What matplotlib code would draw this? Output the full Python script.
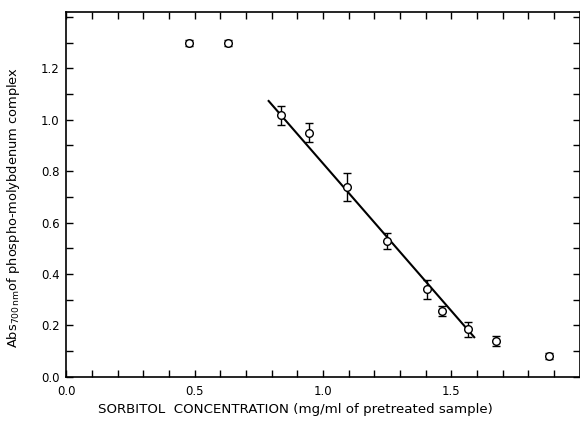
import matplotlib
matplotlib.use('Agg')
import matplotlib.pyplot as plt
import numpy as np

# sorbitol concentration (mg/ml) and absorbance readings
conc = [0.478, 0.63, 0.835, 0.945, 1.095, 1.248, 1.405, 1.464, 1.564, 1.674, 1.881]
absorb = [1.30, 1.30, 1.017, 0.950, 0.737, 0.529, 0.341, 0.257, 0.185, 0.140, 0.082]
err = [0.012, 0.012, 0.037, 0.036, 0.055, 0.03, 0.037, 0.02, 0.03, 0.02, 0.012]

# regression line endpoints
fit_x = [0.788, 1.589]
fit_y = [1.073, 0.154]

fig = plt.figure(figsize=(5.8, 4.21), dpi=100)
ax = fig.add_axes([0.1145, 0.105, 0.885, 0.867])

ax.plot(fit_x, fit_y, color='black', lw=1.5, zorder=2)
ax.errorbar(conc, absorb, yerr=err, fmt='o', mfc='white', mec='black', ms=5.5,
            mew=1.0, ecolor='black', elinewidth=1.0, capsize=2.8, capthick=1.0, zorder=3)

ax.set_xlim(0, 2.0)
ax.set_ylim(0, 1.42)
ax.set_xticks([0.0, 0.5, 1.0, 1.5])
ax.set_xticklabels(['0.0', '0.5', '1.0', '1.5'])
ax.set_xticks(np.arange(0, 2.0, 0.1), minor=True)
ax.set_yticks([0.0, 0.2, 0.4, 0.6, 0.8, 1.0, 1.2])
ax.set_yticklabels(['0.0', '0.2', '0.4', '0.6', '0.8', '1.0', '1.2'])
ax.set_yticks(np.arange(0, 1.42, 0.1), minor=True)

ax.tick_params(which='both', direction='in', top=True, right=True, labelsize=8.5,
               length=5, width=1.0)
ax.tick_params(axis='x', which='major', pad=6)
ax.tick_params(axis='y', which='major', pad=5)
for s in ax.spines.values():
    s.set_linewidth(1.2)

ax.set_xlabel('SORBITOL  CONCENTRATION (mg/ml of pretreated sample)', fontsize=9.6)
ax.xaxis.set_label_coords(0.447, -0.072)
ax.set_ylabel(r'Abs$_{700\,\mathrm{nm}}$of phospho-molybdenum complex', fontsize=9.4)
ax.yaxis.set_label_coords(-0.086, 0.463)

plt.savefig('out.png', dpi=100)
